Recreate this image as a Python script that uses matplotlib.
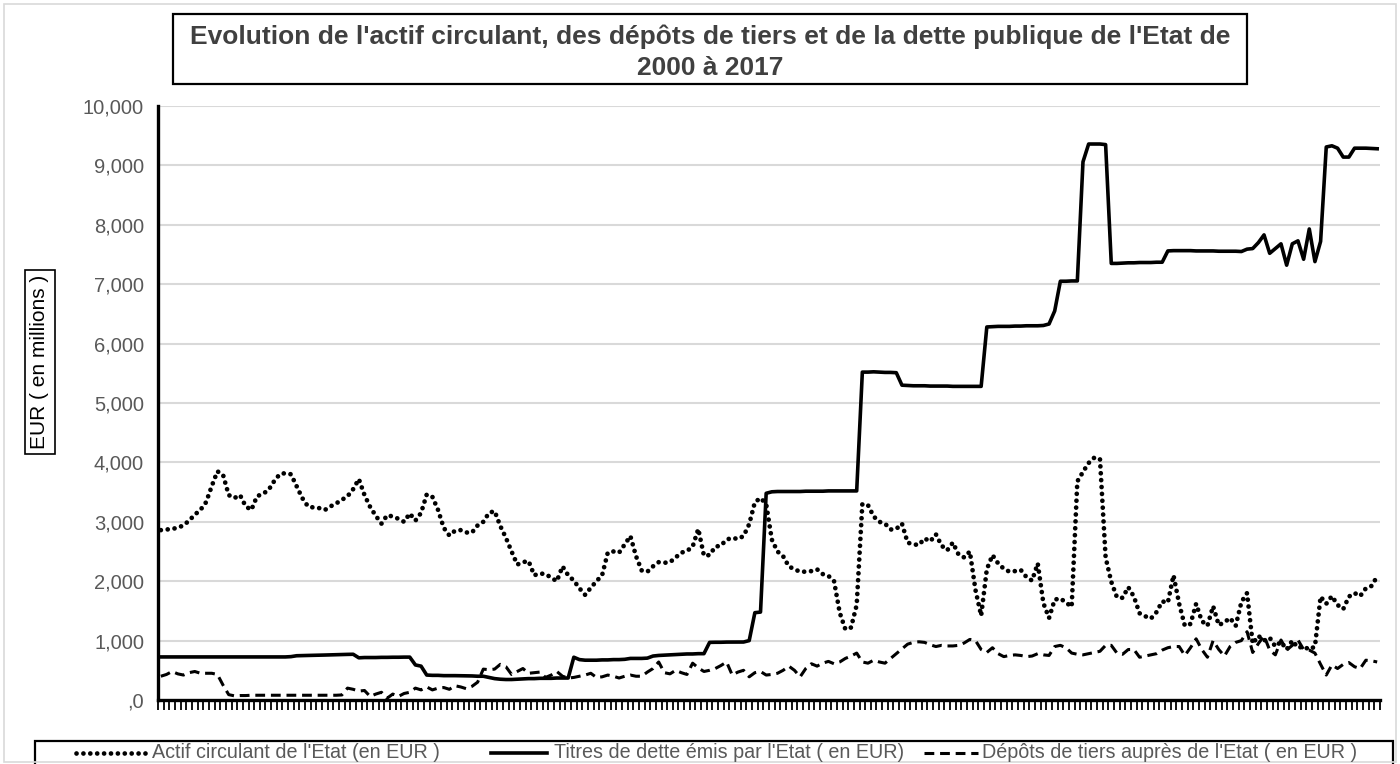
import numpy as np
import matplotlib
matplotlib.use("Agg")
import matplotlib.pyplot as plt
from matplotlib.patches import Rectangle
from matplotlib.lines import Line2D
from matplotlib.ticker import FuncFormatter

# Series mensuelles 2000-01 -> 2017-12 (EUR, en millions), une ligne = une annee
actif = [
    2860, 2870, 2880, 2900, 2940, 3020, 3120, 3200, 3330, 3600, 3850, 3790,
    3450, 3400, 3450, 3260, 3200, 3430, 3470, 3530, 3680, 3800, 3820, 3800,
    3600, 3400, 3260, 3240, 3230, 3200, 3260, 3310, 3370, 3430, 3550, 3720,
    3450, 3250, 3100, 2970, 3110, 3090, 3050, 3000, 3140, 3020, 3150, 3460,
    3420, 3200, 2900, 2770, 2850, 2860, 2820, 2820, 2940, 3000, 3150, 3180,
    2930, 2730, 2500, 2280, 2320, 2340, 2100, 2130, 2120, 2060, 2000, 2250,
    2100, 2010, 1880, 1770, 1890, 2000, 2100, 2480, 2500, 2480, 2620, 2760,
    2420, 2180, 2160, 2250, 2320, 2310, 2320, 2400, 2480, 2510, 2580, 2880,
    2430, 2440, 2580, 2600, 2700, 2730, 2710, 2760, 2960, 3330, 3400, 3300,
    2700, 2500, 2420, 2250, 2200, 2160, 2160, 2170, 2200, 2120, 2090, 2000,
    1470, 1190, 1220, 1600, 3300, 3280, 3090, 3000, 2970, 2870, 2880, 2970,
    2650, 2620, 2610, 2720, 2670, 2790, 2600, 2520, 2650, 2450, 2400, 2500,
    1850, 1420, 2200, 2440, 2300, 2210, 2160, 2170, 2190, 2070, 2010, 2300,
    1630, 1380, 1690, 1710, 1640, 1570, 3680, 3840, 3990, 4080, 4060, 2400,
    1990, 1730, 1720, 1900, 1740, 1460, 1410, 1370, 1480, 1660, 1640, 2100,
    1620, 1250, 1280, 1620, 1330, 1250, 1580, 1260, 1310, 1380, 1250, 1650,
    1800, 950, 1080, 1000, 1050, 900, 980, 850, 1000, 880, 900, 850,
    900, 1740, 1620, 1750, 1600, 1530, 1740, 1800, 1750, 1880, 1920, 2080,
]

titres = [
    725, 725, 725, 725, 725, 725, 725, 725, 725, 725, 725, 725,
    725, 725, 725, 725, 725, 725, 725, 725, 725, 725, 725, 730,
    745, 748, 750, 752, 755, 757, 760, 762, 765, 768, 770, 710,
    715, 715, 715, 718, 718, 720, 720, 722, 722, 590, 570, 420,
    415, 415, 410, 410, 410, 408, 405, 405, 400, 400, 380, 360,
    350, 345, 345, 350, 355, 360, 360, 365, 365, 365, 370, 370,
    370, 720, 680, 670, 670, 670, 675, 675, 680, 680, 685, 700,
    700, 700, 705, 740, 750, 755, 760, 765, 770, 775, 775, 780,
    780, 970, 972, 972, 975, 975, 975, 976, 1000, 1470, 1480, 3480,
    3505, 3510, 3510, 3510, 3510, 3510, 3515, 3515, 3515, 3515, 3520, 3520,
    3520, 3520, 3520, 3520, 5520, 5520, 5525, 5520, 5515, 5515, 5510, 5300,
    5295, 5290, 5290, 5290, 5285, 5285, 5285, 5285, 5280, 5280, 5280, 5280,
    5280, 5280, 6280, 6285, 6290, 6290, 6290, 6295, 6295, 6300, 6300, 6300,
    6305, 6330, 6550, 7050, 7050, 7055, 7055, 9060, 9360, 9360, 9360, 9350,
    7350, 7350, 7355, 7360, 7360, 7365, 7365, 7365, 7370, 7370, 7560, 7565,
    7565, 7565, 7565, 7560, 7560, 7560, 7560, 7555, 7555, 7555, 7555, 7550,
    7590, 7600, 7700, 7830, 7520, 7600, 7680, 7320, 7680, 7730, 7420, 7930,
    7380, 7720, 9310, 9330, 9290, 9140, 9140, 9290, 9290, 9290, 9285, 9280,
]

depots = [
    400, 430, 480, 440, 420, 460, 480, 450, 450, 450, 430, 250,
    90, 70, 75, 75, 80, 80, 80, 80, 80, 80, 80, 80,
    80, 80, 80, 80, 80, 80, 80, 80, 85, 200, 180, 150,
    160, 60, 100, 130, 30, 100, 60, 110, 130, 200, 170, 220,
    170, 200, 210, 180, 240, 220, 190, 230, 300, 520, 510, 520,
    600, 560, 430, 480, 530, 450, 460, 470, 380, 420, 480, 400,
    370, 380, 400, 420, 450, 380, 390, 420, 400, 370, 400, 420,
    400, 400, 470, 530, 640, 460, 440, 500, 460, 430, 620, 540,
    480, 500, 530, 580, 640, 420, 470, 500, 390, 460, 480, 420,
    430, 450, 500, 570, 500, 390, 530, 610, 570, 620, 650, 610,
    640, 700, 740, 790, 640, 620, 670, 640, 620, 700, 780, 860,
    940, 970, 980, 970, 930, 900, 920, 910, 910, 920, 960, 1020,
    1000, 850, 800, 880, 780, 730, 750, 760, 750, 730, 740, 780,
    760, 750, 900, 920, 880, 790, 770, 760, 780, 800, 820, 920,
    920, 790, 770, 850, 850, 720, 740, 760, 780, 840, 880, 900,
    900, 750, 880, 1030, 850, 720, 1000, 850, 740, 900, 970, 1000,
    1150, 800, 950, 1080, 840, 760, 1010, 840, 920, 1010, 850, 840,
    790, 600, 420, 590, 530, 600, 630, 560, 530, 670, 660, 640,
]

titre = ("Evolution de l'actif circulant, des dépôts de tiers et de la dette publique de l'Etat de\n"
         "2000 à 2017")
labels = ["Actif circulant de l'Etat (en EUR )",
          "Titres de dette émis par l'Etat ( en EUR)",
          "Dépôts de tiers auprès de l'Etat ( en EUR )"]

GRIS_TXT = "#595959"
GRIS_GRID = "#d9d9d9"

plt.rcParams["font.family"] = ["Liberation Sans", "DejaVu Sans"]

W, H = 1400, 764
fig = plt.figure(figsize=(14, 7.64), dpi=100)
ax = fig.add_axes([158 / W, 1 - 700 / H, 1222 / W, 594 / H])

x = np.arange(len(actif))

styles = [
    dict(color="black", linewidth=3.4, linestyle=(0, (0.01, 1.45)), dash_capstyle="round"),
    dict(color="black", linewidth=2.6),
    dict(color="black", linewidth=2.2, linestyle=(0, (3.2, 1.9)), dash_capstyle="butt"),
]

ax.plot(x, actif, zorder=3, **styles[0])
ax.plot(x, titres, zorder=4, **styles[1])
ax.plot(x, depots, zorder=3, **styles[2])

ax.set_xlim(-0.5, len(actif) - 0.5)
ax.set_ylim(0, 10000)
ax.set_yticks(np.arange(0, 10001, 1000))
ax.yaxis.set_major_formatter(FuncFormatter(lambda v, p: ",0" if v == 0 else f"{int(v):,}"))
ax.set_xticks(np.arange(-0.5, len(actif), 1))
ax.set_xticklabels([])

ax.grid(axis="y", color=GRIS_GRID, linewidth=1.5)
ax.set_axisbelow(True)
for s in ["top", "right"]:
    ax.spines[s].set_visible(False)
ax.spines["left"].set_linewidth(2.4)
ax.spines["bottom"].set_linewidth(2.4)
ax.tick_params(axis="y", length=0, pad=10, labelsize=14.5, labelcolor=GRIS_TXT)
ax.tick_params(axis="x", direction="out", length=7, width=1.3, color="black")

# titre dans un cadre
fig.patches.append(Rectangle((173 / W, 1 - 84 / H), 1074 / W, 70 / H,
                             transform=fig.transFigure, fill=False,
                             edgecolor="black", linewidth=1.6))
fig.text(710 / W, 1 - 52 / H, titre, ha="center", va="center",
         fontsize=19, fontweight="bold", color="#404040", linespacing=1.35)

# titre de l'axe y dans un cadre
fig.text(40 / W, 1 - 362 / H, "EUR ( en millions )", rotation=90,
         ha="center", va="center", fontsize=15, color="black",
         bbox=dict(boxstyle="square,pad=0.25", facecolor="white",
                   edgecolor="black", linewidth=1.2))

# legende en bas (cadre + echantillons)
fig.patches.append(Rectangle((35 / W, -0.02), 1358 / W, 0.02 + 23 / H,
                             transform=fig.transFigure, fill=False,
                             edgecolor="black", linewidth=1.6))
leg_y = 1 - 753 / H
for (x0, x1, xt), lab, st in zip([(76, 145, 152), (491, 547, 554), (924, 978, 982)],
                                 labels, styles):
    fig.add_artist(Line2D([x0 / W, x1 / W], [leg_y, leg_y],
                          transform=fig.transFigure, **st))
    fig.text(xt / W, leg_y, lab, ha="left", va="center",
             fontsize=14.2, color=GRIS_TXT)

# cadre gris autour du graphique
fig.patches.append(Rectangle((0.003, 0.003), 0.994, 0.992, transform=fig.transFigure,
                             fill=False, edgecolor="#d9d9d9", linewidth=1.2))

fig.savefig("out.png", dpi=100, facecolor="white")
